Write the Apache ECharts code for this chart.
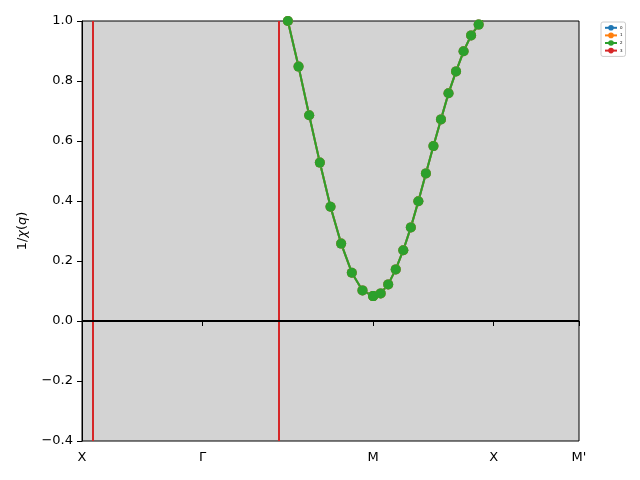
<!DOCTYPE html>
<html>
<head>
<meta charset="utf-8">
<script src="https://cdn.jsdelivr.net/npm/echarts@6/dist/echarts.min.js"></script>
<style>
  html, body { margin: 0; padding: 0; background: #fff; }
  #chart { width: 640px; height: 480px; }
</style>
</head>
<body>
<div id="chart"></div>
<script>
  // k-path ticks (X - Γ - M - X - M')
  var tickPos = [0, 1, 2.4142, 3.4142, 4.1213];
  var tickLabels = ['X', 'Γ', 'M', 'X', "M'"];
  var yTicks = [-0.4, -0.2, 0.0, 0.2, 0.4, 0.6, 0.8, 1.0];

  // 1/chi(q) along each segment, 17 points each
  var segXG = [1.06, 1.08, 1.12, 1.18, 1.25, 1.33, 1.42, 1.50, 1.58, 1.65, 1.72, 1.78, 1.83, 1.87, 1.90, 1.92, 1.93];
  var segGM = [1.93, 1.90, 1.83, 1.73, 1.60, 1.46, 1.31, 1.15, 1.00, 0.848, 0.686, 0.528, 0.381, 0.258, 0.161, 0.102, 0.083];
  var segMX = [0.083, 0.092, 0.122, 0.172, 0.236, 0.312, 0.399, 0.492, 0.583, 0.672, 0.759, 0.832, 0.899, 0.952, 0.988, 1.02, 1.045];
  var segXM = [1.045, 1.05, 1.052, 1.05, 1.045, 1.04, 1.033, 1.026, 1.02, 1.016, 1.013, 1.012, 1.011, 1.011, 1.011, 1.011, 1.011];

  // vertical markers and zero line
  var redLines = [0.086, 1.631];
  var zeroLine = 0;

  var seriesNames = ['0', '1', '2', '3'];
  var colors = ['#1f77b4', '#ff7f0e', '#2ca02c', '#d62728'];

  function buildPath() {
    var segs = [segXG, segGM, segMX, segXM];
    var out = [];
    for (var s = 0; s < segs.length; s++) {
      var x0 = tickPos[s], x1 = tickPos[s + 1], vals = segs[s];
      for (var k = 0; k < vals.length; k++) {
        out.push([x0 + (x1 - x0) * k / (vals.length - 1), vals[k]]);
      }
    }
    return out;
  }

  var pathData = buildPath();
  var chart = echarts.init(document.getElementById('chart'));
  var font = 'DejaVu Sans';

  function bandSeries(i) {
    return {
      name: seriesNames[i],
      type: 'line',
      data: pathData,
      symbol: 'circle',
      symbolSize: 10,
      showAllSymbol: true,
      clip: true,
      animation: false,
      itemStyle: { color: colors[i] },
      lineStyle: { color: colors[i], width: 2 }
    };
  }

  var markData = redLines.map(function (x) {
    return { xAxis: x, lineStyle: { color: colors[3], width: 2, type: 'solid' } };
  });
  markData.push({ yAxis: zeroLine, lineStyle: { color: '#000', width: 2, type: 'solid' } });

  var option = {
    backgroundColor: '#fff',
    animation: false,
    color: colors,
    grid: {
      left: 82, right: 61, top: 21, bottom: 39,
      show: true,
      backgroundColor: '#d3d3d3',
      borderColor: '#000',
      borderWidth: 1
    },
    legend: {
      data: seriesNames,
      orient: 'vertical',
      left: 601,
      top: 22,
      itemWidth: 12,
      itemHeight: 7,
      itemGap: 2,
      padding: [3, 3],
      borderColor: '#ccc',
      borderWidth: 1,
      borderRadius: 2,
      backgroundColor: '#fff',
      textStyle: { fontSize: 4, color: '#000', fontFamily: font, padding: [0, 0, 0, -2] }
    },
    xAxis: {
      type: 'value',
      min: tickPos[0],
      max: tickPos[tickPos.length - 1],
      splitLine: { show: false },
      axisLine: { show: true, lineStyle: { color: '#000', width: 1 } },
      axisTick: { show: true, length: 5, lineStyle: { color: '#000' }, customValues: tickPos },
      axisLabel: {
        customValues: tickPos,
        margin: 10,
        color: '#000',
        fontSize: 13,
        fontFamily: font,
        formatter: function (v) {
          var best = 0;
          for (var i = 1; i < tickPos.length; i++) {
            if (Math.abs(tickPos[i] - v) < Math.abs(tickPos[best] - v)) best = i;
          }
          return tickLabels[best];
        }
      }
    },
    yAxis: {
      type: 'value',
      min: yTicks[0],
      max: yTicks[yTicks.length - 1],
      interval: 0.2,
      splitLine: { show: false },
      axisLine: { show: true, lineStyle: { color: '#000', width: 1 } },
      axisTick: { show: true, length: 5, lineStyle: { color: '#000' } },
      axisLabel: {
        margin: 9,
        color: '#000',
        fontSize: 13,
        fontFamily: font,
        formatter: function (v) { return v.toFixed(1).replace('-', '\u2212'); }
      },
      name: '1/{i|χ}({i|q})',
      nameLocation: 'middle',
      nameRotate: 90,
      nameGap: 53,
      nameTextStyle: {
        color: '#000',
        fontSize: 13,
        fontFamily: font,
        rich: { i: { fontStyle: 'italic', fontSize: 13, fontFamily: font, color: '#000' } }
      }
    },
    series: [
      bandSeries(0),
      bandSeries(1),
      bandSeries(2),
      {
        name: seriesNames[3],
        type: 'line',
        data: [],
        symbol: 'circle',
        symbolSize: 10,
        itemStyle: { color: colors[3] },
        lineStyle: { color: colors[3], width: 2 },
        markLine: {
          silent: true,
          symbol: 'none',
          animation: false,
          label: { show: false },
          data: markData
        }
      }
    ]
  };

  chart.setOption(option);
</script>
</body>
</html>
